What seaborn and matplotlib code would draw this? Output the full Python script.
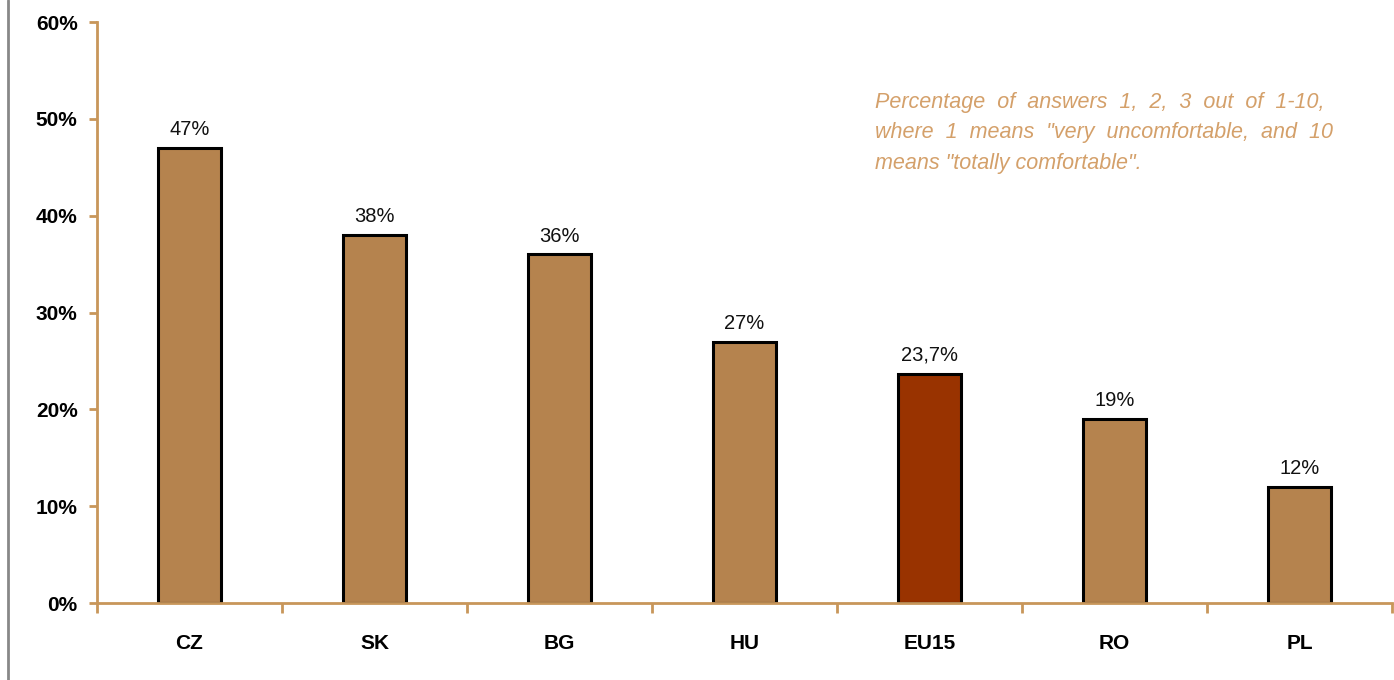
import pandas as pd
import seaborn as sns
import matplotlib.pyplot as plt
from matplotlib.lines import Line2D
from matplotlib.ticker import FixedLocator

countries = ['CZ', 'SK', 'BG', 'HU', 'EU15', 'RO', 'PL']
values = [47, 38, 36, 27, 23.7, 19, 12]
labels = ['47%', '38%', '36%', '27%', '23,7%', '19%', '12%']
colors = ['#B5834E', '#B5834E', '#B5834E', '#B5834E', '#993300', '#B5834E', '#B5834E']

df = pd.DataFrame({'Country': countries, 'Value': values})

sns.set_style('white')
plt.rcParams['font.family'] = ['Liberation Sans', 'DejaVu Sans']
plt.rcParams['text.color'] = 'black'
plt.rcParams['xtick.color'] = 'black'
plt.rcParams['ytick.color'] = 'black'

fig = plt.figure(figsize=(13.94, 6.8), dpi=100)
ax = fig.add_axes([0.0696, 0.1132, 0.929, 0.8544])

sns.barplot(x='Country', y='Value', data=df, hue='Country', palette=colors,
            saturation=1, legend=False, width=0.34, edgecolor='black',
            linewidth=2.2, ax=ax)

for i, (v, t) in enumerate(zip(values, labels)):
    ax.text(i, v + 0.9, t, ha='center', va='bottom', fontsize=14.5, color='#111111')

axcol = '#C8965A'
ax.set_xlim(-0.5, 6.5)
ax.set_ylim(0, 60)
ax.set_yticks(range(0, 61, 10))
ax.set_yticklabels([f'{i}%' for i in range(0, 61, 10)], fontsize=15, fontweight='bold')
ax.set_xticks(range(len(countries)))
ax.set_xticklabels(countries, fontsize=15, fontweight='bold')
ax.xaxis.set_minor_locator(FixedLocator([i - 0.5 for i in range(8)]))
ax.tick_params(axis='x', which='major', length=0, pad=22, bottom=True)
ax.tick_params(axis='x', which='minor', length=7, width=2, color=axcol,
               direction='out', bottom=True)
ax.tick_params(axis='y', length=6, width=2, color=axcol, direction='out',
               pad=8, left=True, labelcolor='black')
ax.set_xlabel('')
ax.set_ylabel('')

for s in ['top', 'right']:
    ax.spines[s].set_visible(False)
for s in ['left', 'bottom']:
    ax.spines[s].set_color(axcol)
    ax.spines[s].set_linewidth(2)

fig.text(0.628, 0.865,
         'Percentage  of  answers  1,  2,  3  out  of  1-10,\n'
         'where  1  means  "very  uncomfortable,  and  10\n'
         'means "totally comfortable".',
         fontsize=15.5, style='italic', color='#D4A06A', ha='left', va='top',
         linespacing=1.6)

fig.add_artist(Line2D([0.006, 0.006], [0, 1], color='#888888', linewidth=2))

fig.savefig('out.png', dpi=100)
